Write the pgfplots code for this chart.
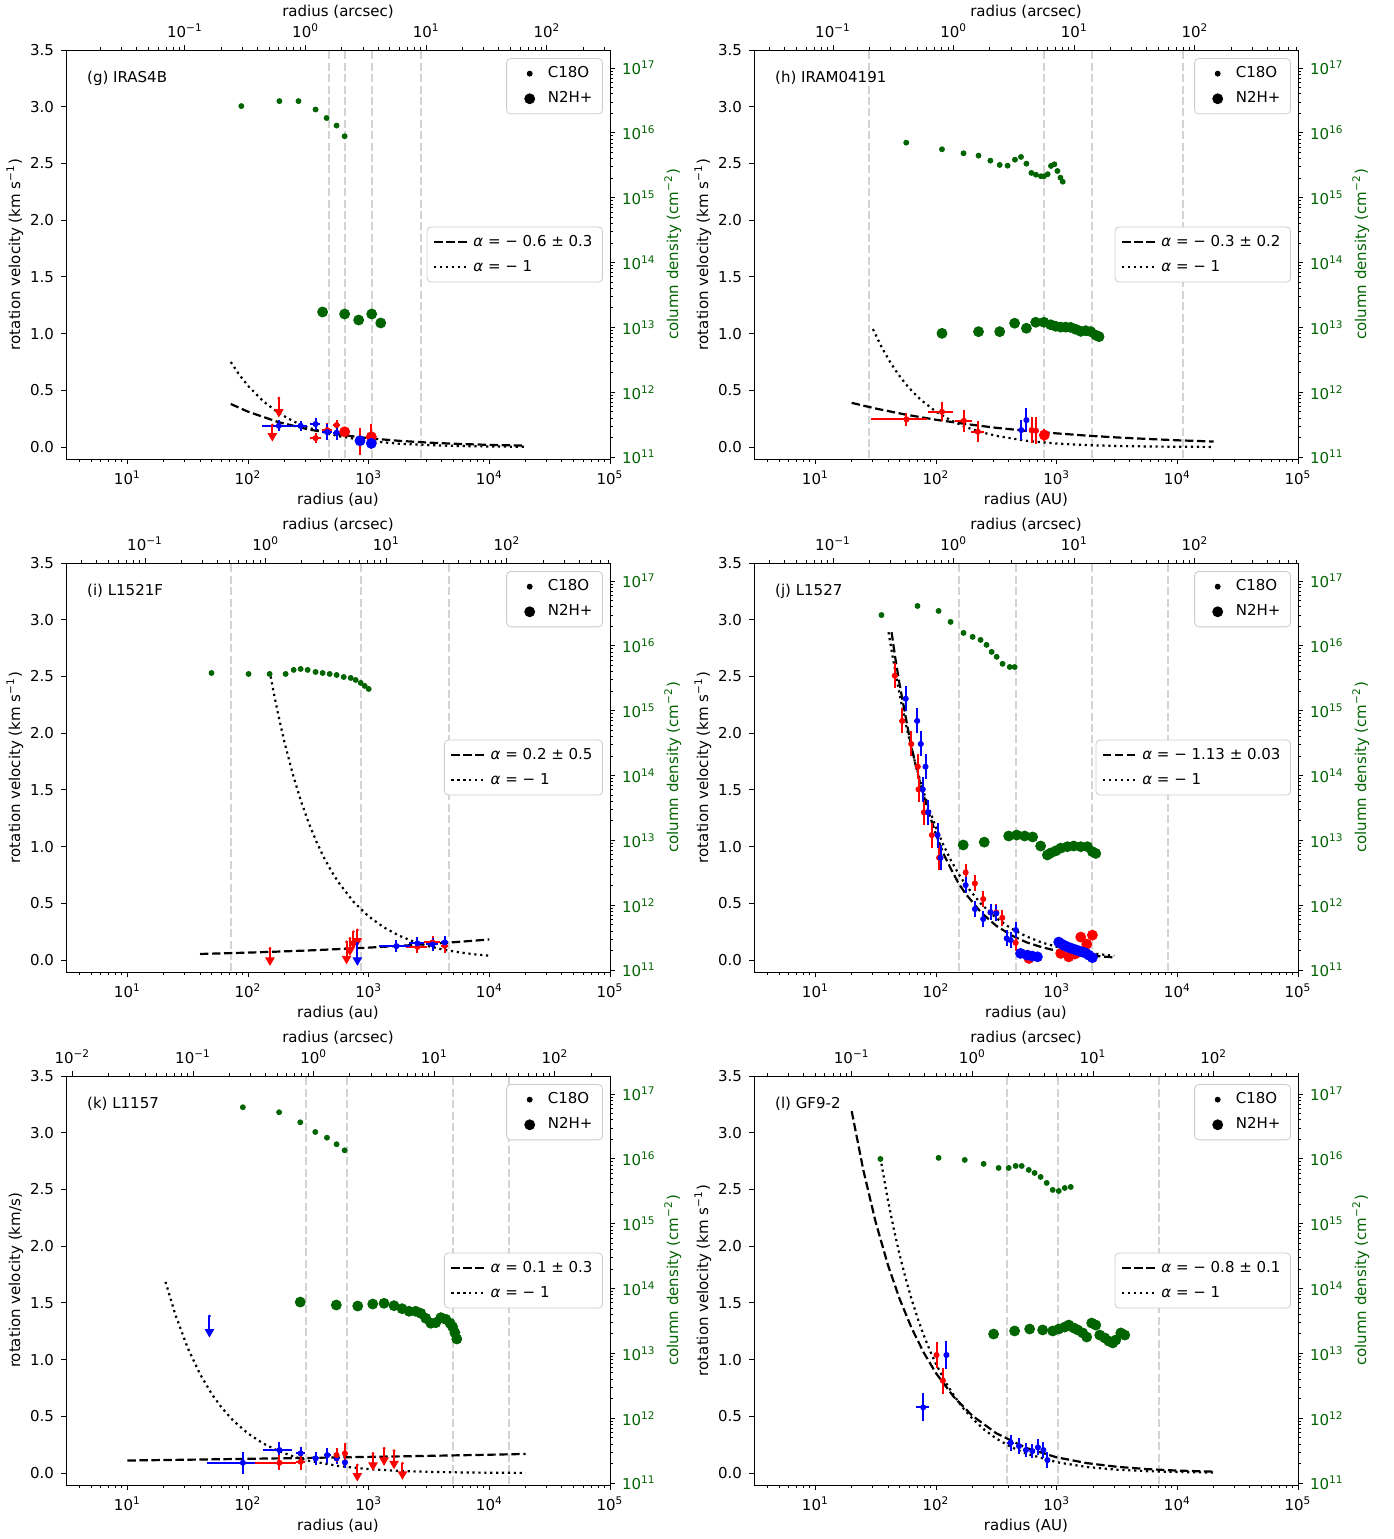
\documentclass[border=0pt]{standalone}
\usepackage{fontspec}
\setmainfont{DejaVu Sans}
\usepackage{pgfplots}
\pgfplotsset{compat=1.18}
\definecolor{dgreen}{HTML}{006400}
\definecolor{lgray}{HTML}{D3D3D3}
\definecolor{lgb}{HTML}{CCCCCC}
\newcommand\fs{\fontsize{7.5}{9}\selectfont}
\newcommand\sps[1]{\textsuperscript{#1}}
\pgfplotsset{
  zVline/.style={forget plot, lgray, line width=1pt, dash pattern=on 4pt off 1.7pt},
  zFitD/.style={black, line width=1.1pt, dash pattern=on 4.2pt off 1.8pt},
  zFitO/.style={black, line width=1.1pt, dash pattern=on 1.1pt off 1.85pt},
  zRsm/.style={forget plot, only marks, mark=*, mark size=1.3pt, color=red, error bars/x dir=both, error bars/x explicit, error bars/y dir=both, error bars/y explicit, error bars/error bar style={line width=1pt, red}, error bars/error mark=none},
  zBsm/.style={forget plot, only marks, mark=*, mark size=1.3pt, color=blue, error bars/x dir=both, error bars/x explicit, error bars/y dir=both, error bars/y explicit, error bars/error bar style={line width=1pt, blue}, error bars/error mark=none},
  zRbg/.style={forget plot, only marks, mark=*, mark size=2.5pt, color=red, error bars/x dir=both, error bars/x explicit, error bars/y dir=both, error bars/y explicit, error bars/error bar style={line width=1pt, red}, error bars/error mark=none},
  zBbg/.style={forget plot, only marks, mark=*, mark size=2.5pt, color=blue, error bars/x dir=both, error bars/x explicit, error bars/y dir=both, error bars/y explicit, error bars/error bar style={line width=1pt, blue}, error bars/error mark=none},
  zRbn/.style={forget plot, only marks, mark=*, mark size=2.5pt, color=red},
  zBbn/.style={forget plot, only marks, mark=*, mark size=2.5pt, color=blue},
  zArrR/.style={forget plot, only marks, mark=*, mark size=0.5pt, color=red, error bars/y dir=minus, error bars/y explicit, error bars/error bar style={line width=1pt, red}, error bars/error mark=triangle*, error bars/error mark options={rotate=270, mark size=2.4pt, fill=red, draw=red, line width=0.4pt}},
  zArrB/.style={forget plot, only marks, mark=*, mark size=0.5pt, color=blue, error bars/y dir=minus, error bars/y explicit, error bars/error bar style={line width=1pt, blue}, error bars/error mark=triangle*, error bars/error mark options={rotate=270, mark size=2.4pt, fill=blue, draw=blue, line width=0.4pt}},
  zGsm/.style={forget plot, only marks, mark=*, mark size=1.25pt, color=dgreen},
  zGbg/.style={forget plot, only marks, mark=*, mark size=2.5pt, color=dgreen},
}
\newcommand\velax[3]{\begin{axis}[scale only axis, width=272pt, height=204.5pt, xmode=log, xmin=3.1, xmax=1e5, ymin=-0.105, ymax=3.5,
    axis line style={line width=0.5pt}, tick label style={font=\fs}, label style={font=\fs},
    tick style={black, line width=0.5pt}, major tick length=2.5pt, minor tick length=1.5pt, tick align=outside,
    ytick={0,0.5,1,1.5,2,2.5,3,3.5}, yticklabels={0.0,0.5,1.0,1.5,2.0,2.5,3.0,3.5},
    xtick={10,100,1000,10000,100000}, xticklabels={10\sps{1},10\sps{2},10\sps{3},10\sps{4},10\sps{5}},
    minor xtick={4,5,6,7,8,9,20,30,40,50,60,70,80,90,200,300,400,500,600,700,800,900,2000,3000,4000,5000,6000,7000,8000,9000,20000,30000,40000,50000,60000,70000,80000,90000},
    xtick pos=bottom, ytick pos=left, xlabel={radius (au)}, ylabel={rotation velocity (km s\sps{−1})},
    xlabel shift=-3pt, ylabel shift=-3.5pt,
    legend style={at={(0.987,0.5)}, anchor=east, font=\fs, draw=lgb, rounded corners=2pt, inner xsep=3pt, inner ysep=2pt, row sep=1.5pt},
    legend cell align=left, at={(#1,#2)}, anchor=south west, #3]}
\newcommand\colax[2]{\begin{axis}[scale only axis, width=272pt, height=204.5pt, xmode=log, ymode=log, xmin=3.1, xmax=1e5, ymin=9.33e10, ymax=1.905e17,
    axis y line*=right, axis x line=none,
    axis line style={line width=0.5pt}, tick label style={font=\fs}, label style={font=\fs},
    tick style={black, line width=0.5pt}, major tick length=2.5pt, minor tick length=1.5pt, tick align=outside,
    ytick={1e11,1e12,1e13,1e14,1e15,1e16,1e17},
    yticklabels={10\sps{11},10\sps{12},10\sps{13},10\sps{14},10\sps{15},10\sps{16},10\sps{17}},
    minor ytick={2e11,3e11,4e11,5e11,6e11,7e11,8e11,9e11,2e12,3e12,4e12,5e12,6e12,7e12,8e12,9e12,2e13,3e13,4e13,5e13,6e13,7e13,8e13,9e13,2e14,3e14,4e14,5e14,6e14,7e14,8e14,9e14,2e15,3e15,4e15,5e15,6e15,7e15,8e15,9e15,2e16,3e16,4e16,5e16,6e16,7e16,8e16,9e16},
    yticklabel style={text=dgreen}, ylabel={column density (cm\sps{−2})}, ylabel style={text=dgreen}, ylabel shift=-2.5pt,
    legend style={at={(0.987,0.98)}, anchor=north east, font=\fs, draw=lgb, rounded corners=2pt, inner xsep=3pt, inner ysep=2pt, row sep=1.5pt},
    legend cell align=left, at={(#1,#2)}, anchor=south west]
  \addlegendimage{legend image code/.code={\path[draw=none] (0cm,0cm) -- (0.55cm,0cm); \fill[black] (0.3cm,0cm) circle (1.25pt);}}\addlegendentry{C18O}
  \addlegendimage{legend image code/.code={\path[draw=none] (0cm,0cm) -- (0.55cm,0cm); \fill[black] (0.3cm,0cm) circle (2.5pt);}}\addlegendentry{N2H+}}
\newcommand\topax[4]{\begin{axis}[scale only axis, width=272pt, height=204.5pt, xmode=log, xmin=#3, xmax=#4, ymin=0, ymax=1,
    axis x line*=top, axis y line=none,
    axis line style={line width=0.5pt}, tick label style={font=\fs}, label style={font=\fs},
    tick style={black, line width=0.5pt}, major tick length=2.5pt, minor tick length=1.5pt, tick align=outside,
    xtick={0.01,0.1,1,10,100}, xticklabels={10\sps{−2},10\sps{−1},10\sps{0},10\sps{1},10\sps{2}},
    minor xtick={0.02,0.03,0.04,0.05,0.06,0.07,0.08,0.09,0.2,0.3,0.4,0.5,0.6,0.7,0.8,0.9,2,3,4,5,6,7,8,9,20,30,40,50,60,70,80,90,200,300,400,500,600,700,800,900},
    xlabel={radius (arcsec)}, xlabel shift=-4pt, at={(#1,#2)}, anchor=south west]
  \addplot[draw=none, forget plot] coordinates {(1,0.5)};
  \end{axis}}
\begin{document}
\begin{tikzpicture}
\path[use as bounding box] (0,0) rectangle (697pt,-769.5pt);
% ================= (g) =================
\velax{33pt}{-229.5pt}{}
\addplot[zVline] coordinates {(466,-0.2) (466,3.6)};
\addplot[zVline] coordinates {(632,-0.2) (632,3.6)};
\addplot[zVline] coordinates {(1059,-0.2) (1059,3.6)};
\addplot[zVline] coordinates {(2703,-0.2) (2703,3.6)};
\addplot[zFitD] coordinates {(72,0.38) (100,0.312) (178,0.221) (316,0.156) (562,0.111) (1000,0.078) (1778,0.0555) (3162,0.0393) (5623,0.0278) (10000,0.0197) (20000,0.013)};
\addlegendentry{\textit{α} = − 0.6 ± 0.3}
\addplot[zFitO] coordinates {(72,0.75) (85,0.635) (100,0.54) (133,0.406) (178,0.303) (237,0.228) (316,0.171) (562,0.096) (1000,0.054) (1778,0.030) (3162,0.017) (5623,0.0096) (10000,0.0054) (20000,0.0027)};
\addlegendentry{\textit{α} = − 1}
\addplot[zRsm] coordinates {(363,0.079) +- (37,0.045) (454,0.150) +- (45,0.06) (542,0.194) +- (40,0.045) (847,0.047) +- (40,0.118)};
\addplot[zBsm] coordinates {(180,0.188) +- (50,0.05) (273,0.188) +- (35,0.045) (363,0.203) +- (35,0.055) (454,0.132) +- (40,0.07) (542,0.126) +- (40,0.06)};
\addplot[zRbg] coordinates {(632,0.135) +- (0,0.03) (1052,0.091) +- (0,0.11)};
\addplot[zBbg] coordinates {(847,0.056) +- (0,0.03) (1052,0.033) +- (0,0.03)};
\addplot[zArrR] coordinates {(180,0.432) +- (0,0.132) (159,0.194) +- (0,0.106)};
\node[anchor=west, font=\fs] at (rel axis cs:0.026,0.931) {(g) IRAS4B};
\end{axis}
\colax{33pt}{-229.5pt}
\addplot[zGsm] coordinates {(88,2.6e16) (182,3.1e16) (262,3.1e16) (363,2.3e16) (448,1.7e16) (542,1.3e16) (632,8.9e15)};
\addplot[zGbg] coordinates {(415,1.73e13) (632,1.61e13) (826,1.30e13) (1059,1.61e13) (1259,1.17e13)};
\end{axis}
\topax{33pt}{-229.5pt}{0.010333}{333.33}
% ================= (h) =================
\velax{377pt}{-229.5pt}{xlabel={radius (AU)}}
\addplot[zVline] coordinates {(28,-0.2) (28,3.6)};
\addplot[zVline] coordinates {(780,-0.2) (780,3.6)};
\addplot[zVline] coordinates {(1950,-0.2) (1950,3.6)};
\addplot[zVline] coordinates {(11100,-0.2) (11100,3.6)};
\addplot[zFitD] coordinates {(20,0.39) (31.6,0.340) (56.2,0.286) (100,0.241) (178,0.203) (316,0.170) (562,0.143) (1000,0.121) (1778,0.101) (3162,0.085) (5623,0.072) (10000,0.060) (20000,0.049)};
\addlegendentry{\textit{α} = − 0.3 ± 0.2}
\addplot[zFitO] coordinates {(30,1.04) (35.5,0.879) (42,0.743) (48.7,0.641) (56.2,0.555) (65,0.48) (75,0.416) (100,0.312) (133,0.235) (178,0.175) (237,0.132) (316,0.099) (562,0.0555) (1000,0.0312) (1778,0.0175) (3162,0.0099) (5623,0.0055) (10000,0.0031) (20000,0.0016)};
\addlegendentry{\textit{α} = − 1}
\addplot[zRsm] coordinates {(56.9,0.244) +- (28,0.059) (112,0.311) +- (27,0.084) (170,0.232) +- (27,0.096) (222,0.135) +- (27,0.093) (621,0.150) +- (15,0.115) (673,0.144) +- (15,0.118)};
\addplot[zBsm] coordinates {(509,0.150) +- (15,0.091) (561,0.238) +- (15,0.107)};
\addplot[zRbg] coordinates {(790,0.106) +- (0,0.05)};
\node[anchor=west, font=\fs] at (rel axis cs:0.026,0.931) {(h) IRAM04191};
\end{axis}
\colax{377pt}{-229.5pt}
\addplot[zGsm] coordinates {(56.6,7.08e15) (112,5.6e15) (169,4.86e15) (225,4.47e15) (282,3.74e15) (337,3.21e15) (392,3.13e15) (451,3.87e15) (506,4.27e15) (561,3.36e15) (617,2.42e15) (673,2.27e15) (741,2.15e15) (785,2.15e15) (842,2.31e15) (897,3.10e15) (957,3.29e15) (1014,2.59e15) (1074,2.04e15) (1122,1.77e15)};
\addplot[zGbg] coordinates {(112,8.1e12) (225,8.6e12) (337,8.6e12) (448,1.16e13) (561,9.7e12) (670,1.20e13) (785,1.20e13) (891,1.10e13) (982,1.04e13) (1080,1.01e13) (1188,1.01e13) (1307,1.00e13) (1438,9.35e12) (1582,8.7e12) (1741,8.9e12) (1916,8.6e12) (2108,7.6e12) (2244,7.2e12)};
\end{axis}
\topax{377pt}{-229.5pt}{0.022143}{714.29}
% ================= (i) =================
\velax{33pt}{-486pt}{}
\addplot[zVline] coordinates {(72,-0.2) (72,3.6)};
\addplot[zVline] coordinates {(859,-0.2) (859,3.6)};
\addplot[zVline] coordinates {(4610,-0.2) (4610,3.6)};
\addplot[zFitD] coordinates {(40,0.054) (100,0.066) (178,0.075) (316,0.085) (562,0.097) (1000,0.110) (1778,0.125) (3162,0.142) (5623,0.161) (10000,0.182)};
\addlegendentry{\textit{α} = 0.2 ± 0.5}
\addplot[zFitO] coordinates {(154,2.5) (165,2.333) (178,2.163) (200,1.925) (237,1.624) (275,1.4) (316,1.218) (365,1.055) (422,0.912) (487,0.79) (562,0.685) (750,0.513) (1000,0.385) (1334,0.289) (1778,0.2165) (2371,0.162) (3162,0.122) (4217,0.091) (5623,0.0685) (7499,0.0513) (10000,0.0385)};
\addlegendentry{\textit{α} = − 1}
\addplot[zArrR] coordinates {(152,0.103) +- (0,0.115) (656,0.161) +- (0,0.159) (699,0.191) +- (0,0.115) (746,0.250) +- (0,0.115) (806,0.265) +- (0,0.106)};
\addplot[zArrB] coordinates {(806,0.147) +- (0,0.159)};
\addplot[zRsm] coordinates {(2535,0.117) +- (480,0.053) (3381,0.156) +- (500,0.06) (4276,0.126) +- (300,0.06)};
\addplot[zBsm] coordinates {(1698,0.123) +- (490,0.05) (2535,0.147) +- (360,0.053) (3381,0.138) +- (400,0.06) (4276,0.156) +- (300,0.06)};
\node[anchor=west, font=\fs] at (rel axis cs:0.026,0.931) {(i) L1521F};
\end{axis}
\colax{33pt}{-486pt}
\addplot[zGsm] coordinates {(49.8,3.83e15) (101,3.70e15) (151,3.70e15) (205,3.70e15) (239,4.27e15) (273,4.42e15) (312,4.27e15) (363,3.97e15) (415,3.83e15) (475,3.70e15) (542,3.57e15) (621,3.32e15) (710,3.21e15) (780,2.99e15) (859,2.69e15) (927,2.42e15) (1000,2.17e15)};
\end{axis}
\topax{33pt}{-486pt}{0.022143}{714.29}
% ================= (j) =================
\velax{377pt}{-486pt}{}
\addplot[zVline] coordinates {(154,-0.2) (154,3.6)};
\addplot[zVline] coordinates {(457,-0.2) (457,3.6)};
\addplot[zVline] coordinates {(1950,-0.2) (1950,3.6)};
\addplot[zVline] coordinates {(8340,-0.2) (8340,3.6)};
\addplot[zFitD] coordinates {(42.8,2.89) (46,2.66) (50,2.424) (55,2.19) (60,1.973) (67,1.74) (75,1.533) (87,1.3) (100,1.107) (115,0.94) (133,0.803) (155,0.67) (178,0.578) (237,0.418) (316,0.302) (422,0.218) (562,0.157) (750,0.114) (1000,0.082) (1334,0.06) (1778,0.043) (2371,0.032) (3000,0.0237)};
\addlegendentry{\textit{α} = − 1.13 ± 0.03}
\addplot[zFitO] coordinates {(40.4,2.89) (44,2.655) (50,2.336) (55,2.124) (60,1.947) (67,1.743) (75,1.557) (87,1.343) (100,1.168) (115,1.016) (133,0.878) (155,0.754) (178,0.656) (237,0.493) (316,0.370) (422,0.277) (562,0.208) (750,0.156) (1000,0.117) (1334,0.0876) (1778,0.066) (2371,0.049) (3000,0.039)};
\addlegendentry{\textit{α} = − 1}
\addplot[zRsm] coordinates {(45.5,2.507) +- (2.5,0.11) (52.5,2.108) +- (3,0.11) (62.3,1.905) +- (3,0.11) (70.6,1.705) +- (3.5,0.11) (71.6,1.505) +- (3.5,0.11) (79.3,1.302) +- (4,0.11) (92.3,1.102) +- (4.5,0.11) (106,0.902) +- (5,0.11) (176,0.773) +- (9,0.07) (210,0.676) +- (10,0.07) (246,0.538) +- (12,0.07) (283,0.421) +- (14,0.07) (316,0.421) +- (15,0.07) (354,0.373) +- (17,0.07) (457,0.153) +- (20,0.07)};
\addplot[zBsm] coordinates {(56.1,2.304) +- (3,0.11) (69.8,2.108) +- (3.5,0.11) (74.8,1.905) +- (3.5,0.11) (81.8,1.705) +- (4,0.11) (77.7,1.505) +- (4,0.11) (86.1,1.302) +- (4.5,0.11) (103,1.102) +- (5,0.11) (109,0.902) +- (5.5,0.11) (176,0.661) +- (9,0.07) (210,0.450) +- (10,0.07) (246,0.362) +- (12,0.07) (283,0.421) +- (14,0.07) (316,0.412) +- (15,0.07) (385,0.191) +- (18,0.07) (415,0.176) +- (20,0.07) (459,0.265) +- (20,0.07)};
\addplot[zRbn] coordinates {(589,0.015) (1080,0.059) (1259,0.029) (1410,0.053) (1523,0.071) (1582,0.203) (1774,0.141) (1977,0.220)};
\addplot[zBbn] coordinates {(502,0.059) (571,0.044) (628,0.035) (692,0.029) (1040,0.159) (1100,0.141) (1164,0.128) (1233,0.115) (1306,0.106) (1383,0.097) (1465,0.088) (1552,0.079) (1643,0.071) (1741,0.062) (1844,0.044) (1977,0.022)};
\node[anchor=west, font=\fs] at (rel axis cs:0.026,0.931) {(j) L1527};
\end{axis}
\colax{377pt}{-486pt}
\addplot[zGsm] coordinates {(35.3,3.0e16) (70.2,4.14e16) (105,3.47e16) (132,2.35e16) (169,1.59e16) (201,1.38e16) (234,1.24e16) (262,1.04e16) (289,8.1e15) (318,6.8e15) (356,5.3e15) (408,4.74e15) (448,4.74e15)};
\addplot[zGbg] coordinates {(168,8.5e12) (251,9.4e12) (400,1.17e13) (466,1.21e13) (542,1.17e13) (632,1.13e13) (736,8.2e12) (837,5.96e12) (891,6.4e12) (982,6.9e12) (1080,7.6e12) (1227,8.0e12) (1384,8.2e12) (1582,8.0e12) (1799,8.0e12) (1977,6.7e12) (2108,6.3e12)};
\end{axis}
\topax{377pt}{-486pt}{0.022143}{714.29}
% ================= (k) =================
\velax{33pt}{-742.5pt}{ylabel={rotation velocity (km/s)}}
\addplot[zVline] coordinates {(305,-0.2) (305,3.6)};
\addplot[zVline] coordinates {(656,-0.2) (656,3.6)};
\addplot[zVline] coordinates {(4980,-0.2) (4980,3.6)};
\addplot[zVline] coordinates {(14500,-0.2) (14500,3.6)};
\addplot[zFitD] coordinates {(10,0.111) (31.6,0.118) (100,0.126) (316,0.134) (1000,0.143) (3162,0.152) (10000,0.162) (20000,0.169)};
\addlegendentry{\textit{α} = 0.1 ± 0.3}
\addplot[zFitO] coordinates {(20.7,1.686) (25,1.396) (31.6,1.104) (40,0.873) (50,0.698) (60,0.582) (75,0.465) (100,0.349) (133,0.262) (178,0.196) (237,0.147) (316,0.110) (562,0.062) (1000,0.035) (1778,0.0196) (3162,0.011) (5623,0.0062) (10000,0.0035) (20000,0.0017)};
\addlegendentry{\textit{α} = − 1}
\addplot[zBsm] coordinates {(90.6,0.091) +- (45,0.097) (182,0.203) +- (50,0.074) (273,0.174) +- (25,0.059) (363,0.130) +- (25,0.059) (454,0.159) +- (30,0.066) (542,0.130) +- (30,0.05) (636,0.094) +- (30,0.05)};
\addplot[zRsm] coordinates {(182,0.091) +- (67,0.066) (273,0.100) +- (25,0.074) (542,0.159) +- (30,0.059) (636,0.174) +- (30,0.088)};
\addplot[zArrR] coordinates {(805,0.071) +- (0,0.106) (1086,0.174) +- (0,0.115) (1341,0.218) +- (0,0.115) (1622,0.197) +- (0,0.124) (1905,0.086) +- (0,0.106)};
\addplot[zArrB] coordinates {(47.9,1.384) +- (0,0.15)};
\node[anchor=west, font=\fs] at (rel axis cs:0.026,0.931) {(k) L1157};
\end{axis}
\colax{33pt}{-742.5pt}
\addplot[zGsm] coordinates {(90.6,6.28e16) (181,5.26e16) (271,3.68e16) (361,2.61e16) (451,2.13e16) (542,1.69e16) (632,1.36e16)};
\addplot[zGbg] coordinates {(271,6.2e13) (539,5.58e13) (811,5.38e13) (1080,5.78e13) (1340,5.93e13) (1622,5.45e13) (1890,4.90e13) (2160,4.47e13) (2454,4.47e13) (2703,4.16e13) (2974,3.48e13) (3273,2.92e13) (3600,2.98e13) (3963,3.56e13) (4359,3.36e13) (4729,2.92e13) (4955,2.58e13) (5177,2.09e13) (5374,1.67e13)};
\end{axis}
\topax{33pt}{-742.5pt}{0.008857}{285.71}
% ================= (l) =================
\velax{377pt}{-742.5pt}{xlabel={radius (AU)}}
\addplot[zVline] coordinates {(385,-0.2) (385,3.6)};
\addplot[zVline] coordinates {(1019,-0.2) (1019,3.6)};
\addplot[zVline] coordinates {(7010,-0.2) (7010,3.6)};
\addplot[zFitD] coordinates {(20,3.19) (25,2.668) (31.6,2.212) (40,1.832) (50,1.533) (63,1.274) (79.4,1.059) (100,0.880) (141,0.669) (200,0.506) (316,0.351) (562,0.221) (1000,0.139) (1778,0.088) (3162,0.0555) (5623,0.035) (10000,0.0221) (20000,0.0127)};
\addlegendentry{\textit{α} = − 0.8 ± 0.1}
\addplot[zFitO] coordinates {(34.6,2.778) (40,2.40) (45,2.136) (50,1.922) (56,1.716) (63,1.525) (71,1.354) (79.4,1.210) (90,1.068) (100,0.961) (120,0.801) (141,0.682) (170,0.565) (200,0.481) (250,0.384) (316,0.304) (422,0.228) (562,0.171) (1000,0.096) (1778,0.054) (3162,0.030) (5623,0.017) (10000,0.0096) (20000,0.0048)};
\addlegendentry{\textit{α} = − 1}
\addplot[zRsm] coordinates {(101,1.041) +- (5,0.115) (114,0.814) +- (5,0.115)};
\addplot[zBsm] coordinates {(122,1.041) +- (6,0.125) (78.3,0.580) +- (9.5,0.125) (415,0.267) +- (30,0.07) (487,0.238) +- (30,0.07) (556,0.203) +- (30,0.06) (628,0.194) +- (30,0.06) (699,0.227) +- (30,0.07) (776,0.203) +- (30,0.07) (838,0.115) +- (30,0.07)};
\node[anchor=west, font=\fs] at (rel axis cs:0.026,0.931) {(l) GF9-2};
\end{axis}
\colax{377pt}{-742.5pt}
\addplot[zGsm] coordinates {(34.6,1.0e16) (105,1.04e16) (173,9.66e15) (248,8.4e15) (330,7.27e15) (400,7.27e15) (457,7.8e15) (513,7.8e15) (587,6.77e15) (656,6.08e15) (736,5.28e15) (826,4.27e15) (927,3.33e15) (1040,3.21e15) (1166,3.57e15) (1307,3.70e15)};
\addplot[zGbg] coordinates {(300,1.99e13) (448,2.22e13) (597,2.38e13) (765,2.30e13) (927,2.22e13) (1040,2.38e13) (1166,2.55e13) (1259,2.74e13) (1384,2.47e13) (1494,2.30e13) (1643,2.07e13) (1774,1.79e13) (1950,2.94e13) (2108,2.74e13) (2274,1.92e13) (2502,1.73e13) (2703,1.55e13) (2917,1.45e13) (3090,1.61e13) (3398,2.07e13) (3665,1.92e13)};
\end{axis}
\topax{377pt}{-742.5pt}{0.0155}{500}
\end{tikzpicture}
\end{document}
